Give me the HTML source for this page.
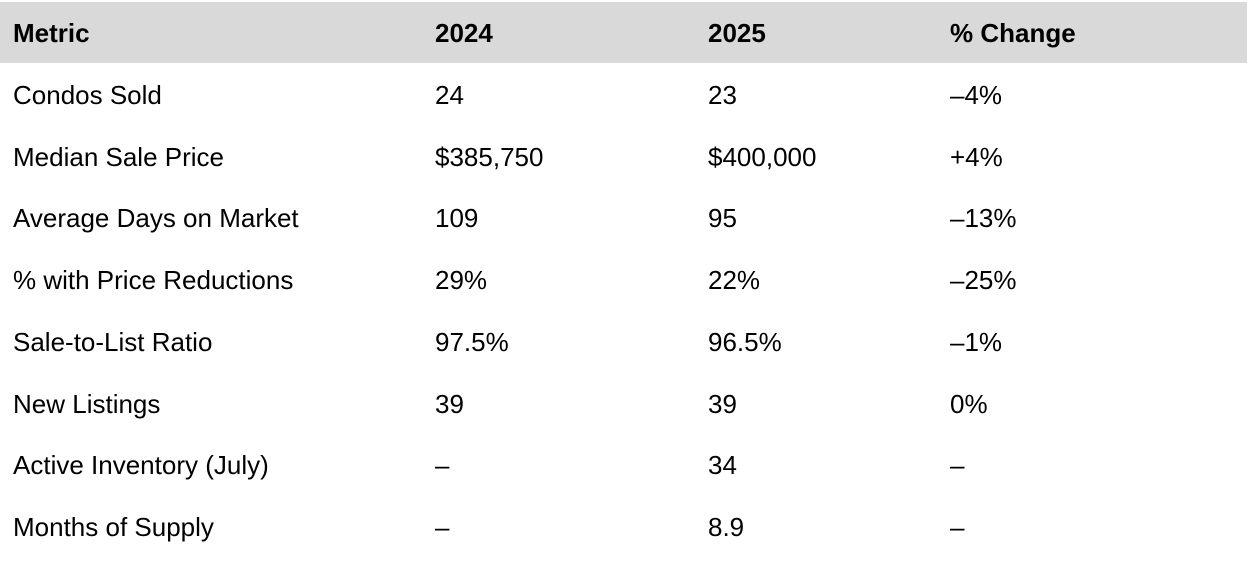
<!DOCTYPE html>
<html><head><meta charset="utf-8"><style>
html,body{margin:0;padding:0;background:#fff;width:1250px;height:570px;overflow:hidden}
body{font-family:"Liberation Sans",Arial,sans-serif;color:#000;position:relative}
.hdr{position:absolute;left:0;top:2px;width:1247px;height:61px;background:#d9d9d9}
.c{position:absolute;font-size:26px;line-height:30px;white-space:nowrap}
.b{font-weight:bold}
</style></head><body>
<div class="hdr"></div>
<div id="t"></div>
<script>
const headers=["Metric","2024","2025","% Change"];
const rows=[
["Condos Sold","24","23","–4%"],
["Median Sale Price","$385,750","$400,000","+4%"],
["Average Days on Market","109","95","–13%"],
["% with Price Reductions","29%","22%","–25%"],
["Sale-to-List Ratio","97.5%","96.5%","–1%"],
["New Listings","39","39","0%"],
["Active Inventory (July)","–","34","–"],
["Months of Supply","–","8.9","–"]
];
const colX=[13,435,708,950];
const t=document.getElementById('t');
headers.forEach((h,i)=>{
  const d=document.createElement('div');
  d.className='c b';
  d.style.left=colX[i]+'px';d.style.top=(33-15)+'px';
  d.textContent=h;
  
  
  t.appendChild(d);
});
rows.forEach((r,ri)=>{
  const cy=95+ri*61.7;
  r.forEach((v,ci)=>{
    const d=document.createElement('div');
    d.className='c';
    d.style.left=colX[ci]+'px';d.style.top=(cy-15)+'px';
    d.textContent=v;
    
    
    t.appendChild(d);
  });
});
</script>
</body></html>
